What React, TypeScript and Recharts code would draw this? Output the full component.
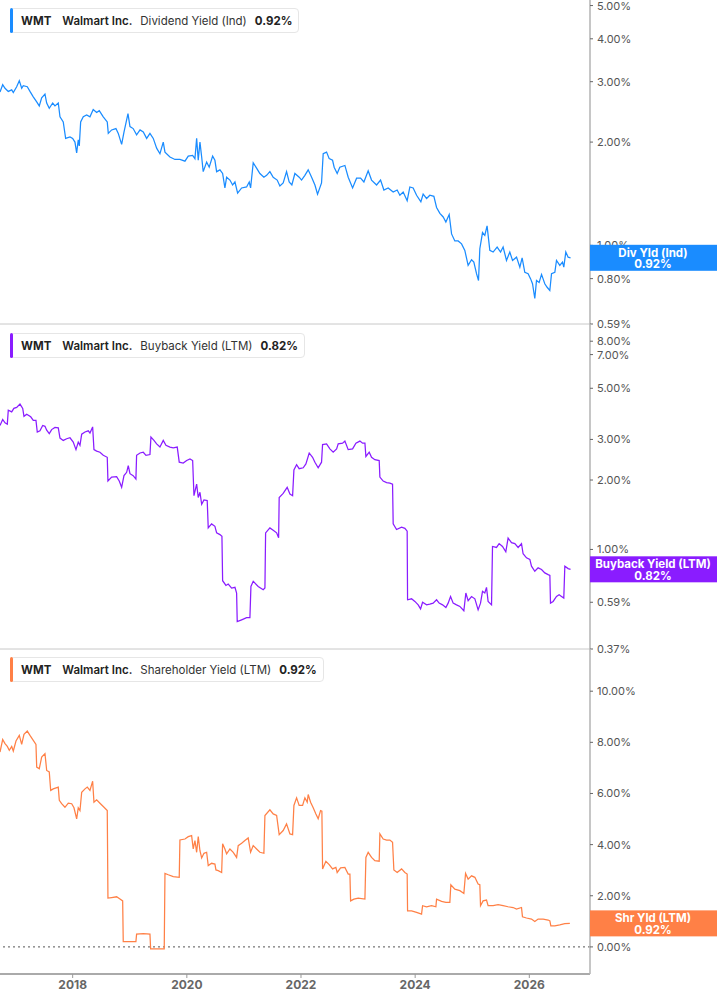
import React from "react";
import {
  LineChart,
  Line,
  XAxis,
  YAxis,
  ReferenceLine,
} from "recharts";

const FONT = "Inter, 'Noto Sans', sans-serif";

// [year, yield %]
const dividendYield: [number, number][] = [
  [2016.727, 2.8], [2016.774, 2.94], [2016.815, 2.87], [2016.872, 2.81], [2016.932, 2.84],
  [2016.96, 2.79], [2017.019, 2.9], [2017.065, 3.02], [2017.107, 2.87], [2017.135, 2.92],
  [2017.205, 2.9], [2017.252, 2.81], [2017.31, 2.71], [2017.37, 2.62], [2017.415, 2.55],
  [2017.457, 2.69], [2017.515, 2.76], [2017.545, 2.6], [2017.59, 2.51], [2017.65, 2.6],
  [2017.69, 2.55], [2017.748, 2.6], [2017.778, 2.37], [2017.835, 2.29], [2017.877, 2.05],
  [2017.953, 2.07], [2018.0, 2.05], [2018.04, 2.0], [2018.07, 1.86], [2018.098, 2.03],
  [2018.116, 1.95], [2018.14, 2.29], [2018.186, 2.37], [2018.245, 2.4], [2018.303, 2.37],
  [2018.36, 2.49], [2018.42, 2.44], [2018.466, 2.47], [2018.536, 2.37], [2018.606, 2.29],
  [2018.624, 2.12], [2018.683, 2.17], [2018.758, 2.19], [2018.799, 2.12], [2018.858, 1.97],
  [2018.899, 2.14], [2018.969, 2.42], [2019.004, 2.22], [2019.06, 2.19], [2019.12, 2.1],
  [2019.18, 2.17], [2019.237, 2.14], [2019.296, 2.05], [2019.354, 2.12], [2019.412, 2.05],
  [2019.471, 1.92], [2019.529, 1.85], [2019.587, 2.0], [2019.617, 1.87], [2019.704, 1.81],
  [2019.792, 1.78], [2019.879, 1.78], [2019.967, 1.76], [2020.025, 1.82], [2020.102, 1.83],
  [2020.142, 1.79], [2020.172, 2.05], [2020.2, 1.77], [2020.23, 2.0], [2020.26, 1.81],
  [2020.287, 1.64], [2020.347, 1.75], [2020.392, 1.69], [2020.452, 1.82], [2020.492, 1.77],
  [2020.522, 1.64], [2020.58, 1.66], [2020.627, 1.62], [2020.667, 1.47], [2020.697, 1.58],
  [2020.755, 1.55], [2020.802, 1.5], [2020.843, 1.53], [2020.89, 1.42], [2020.96, 1.47],
  [2021.047, 1.48], [2021.093, 1.53], [2021.117, 1.47], [2021.163, 1.74], [2021.222, 1.68],
  [2021.28, 1.62], [2021.35, 1.58], [2021.398, 1.6], [2021.455, 1.64], [2021.513, 1.58],
  [2021.583, 1.55], [2021.63, 1.49], [2021.688, 1.52], [2021.747, 1.64], [2021.793, 1.53],
  [2021.84, 1.5], [2021.893, 1.62], [2021.968, 1.58], [2022.01, 1.55], [2022.068, 1.6],
  [2022.126, 1.66], [2022.186, 1.58], [2022.244, 1.5], [2022.29, 1.41], [2022.36, 1.52],
  [2022.389, 1.85], [2022.448, 1.87], [2022.494, 1.79], [2022.553, 1.77], [2022.581, 1.69],
  [2022.634, 1.62], [2022.68, 1.69], [2022.769, 1.71], [2022.827, 1.58], [2022.904, 1.47],
  [2022.974, 1.57], [2023.044, 1.57], [2023.102, 1.53], [2023.177, 1.65], [2023.236, 1.55],
  [2023.324, 1.5], [2023.394, 1.55], [2023.452, 1.45], [2023.527, 1.47], [2023.615, 1.43],
  [2023.685, 1.45], [2023.732, 1.4], [2023.79, 1.43], [2023.86, 1.35], [2023.907, 1.48],
  [2023.965, 1.47], [2024.025, 1.4], [2024.1, 1.34], [2024.14, 1.41], [2024.2, 1.37],
  [2024.257, 1.4], [2024.328, 1.39], [2024.375, 1.29], [2024.433, 1.24], [2024.491, 1.21],
  [2024.538, 1.17], [2024.596, 1.23], [2024.638, 1.08], [2024.695, 1.03], [2024.753, 1.03],
  [2024.813, 1.01], [2024.87, 0.967], [2024.928, 0.874], [2024.988, 0.908], [2025.028, 0.894],
  [2025.075, 0.827], [2025.11, 0.79], [2025.133, 0.978], [2025.18, 1.09], [2025.22, 1.07],
  [2025.26, 1.14], [2025.308, 0.967], [2025.366, 0.956], [2025.436, 0.989], [2025.496, 0.956],
  [2025.541, 0.989], [2025.6, 0.904], [2025.658, 0.956], [2025.706, 0.904], [2025.776, 0.924],
  [2025.834, 0.864], [2025.874, 0.92], [2025.921, 0.835], [2025.979, 0.827], [2026.021, 0.8],
  [2026.056, 0.773], [2026.096, 0.7], [2026.126, 0.79], [2026.172, 0.78], [2026.214, 0.823],
  [2026.271, 0.773], [2026.312, 0.755], [2026.359, 0.739], [2026.389, 0.827], [2026.447, 0.835],
  [2026.476, 0.904], [2026.534, 0.874], [2026.581, 0.894], [2026.604, 0.864], [2026.639, 0.956],
  [2026.68, 0.924], [2026.722, 0.92],
];

const buybackYield: [number, number][] = [
  [2016.727, 3.45], [2016.774, 3.66], [2016.815, 3.54], [2016.855, 3.49], [2016.872, 4.02],
  [2016.932, 3.95], [2016.97, 4.09], [2017.019, 4.13], [2017.077, 4.27], [2017.125, 4.09],
  [2017.147, 3.78], [2017.195, 3.86], [2017.265, 3.76], [2017.31, 3.63], [2017.357, 3.63],
  [2017.38, 3.23], [2017.427, 3.27], [2017.475, 3.45], [2017.515, 3.42], [2017.545, 3.29],
  [2017.59, 3.18], [2017.632, 3.31], [2017.69, 3.38], [2017.748, 3.37], [2017.778, 3.04],
  [2017.835, 2.97], [2017.895, 3.02], [2017.953, 3.05], [2018.01, 2.92], [2018.058, 2.71],
  [2018.098, 2.92], [2018.128, 2.83], [2018.158, 3.16], [2018.216, 3.23], [2018.273, 3.27],
  [2018.303, 3.2], [2018.35, 3.4], [2018.373, 2.71], [2018.42, 2.67], [2018.478, 2.64],
  [2018.536, 2.56], [2018.606, 2.51], [2018.618, 1.98], [2018.683, 2.06], [2018.77, 2.07],
  [2018.816, 1.98], [2018.858, 1.86], [2018.899, 2.09], [2018.946, 2.16], [2018.974, 2.31],
  [2019.004, 2.13], [2019.06, 2.09], [2019.108, 2.02], [2019.12, 2.56], [2019.18, 2.62],
  [2019.237, 2.64], [2019.284, 2.56], [2019.354, 2.58], [2019.371, 3.07], [2019.424, 2.97],
  [2019.471, 2.87], [2019.529, 2.78], [2019.587, 2.97], [2019.634, 2.83], [2019.704, 2.78],
  [2019.762, 2.76], [2019.832, 2.78], [2019.867, 2.39], [2019.937, 2.37], [2019.997, 2.43],
  [2020.055, 2.47], [2020.102, 2.43], [2020.125, 1.71], [2020.172, 1.92], [2020.2, 1.68],
  [2020.23, 1.77], [2020.26, 1.57], [2020.3, 1.64], [2020.357, 1.63], [2020.375, 1.24],
  [2020.434, 1.29], [2020.492, 1.26], [2020.522, 1.18], [2020.58, 1.16], [2020.615, 1.14],
  [2020.627, 0.732], [2020.685, 0.698], [2020.725, 0.708], [2020.785, 0.68], [2020.843, 0.685],
  [2020.872, 0.647], [2020.883, 0.486], [2020.96, 0.495], [2021.047, 0.506], [2021.105, 0.506],
  [2021.123, 0.691], [2021.163, 0.727], [2021.25, 0.691], [2021.338, 0.669], [2021.368, 0.68],
  [2021.38, 1.18], [2021.455, 1.24], [2021.513, 1.21], [2021.573, 1.18], [2021.608, 1.125],
  [2021.618, 1.68], [2021.688, 1.75], [2021.758, 1.86], [2021.806, 1.74], [2021.853, 1.71],
  [2021.876, 2.21], [2021.923, 2.33], [2021.968, 2.24], [2022.039, 2.26], [2022.086, 2.35],
  [2022.144, 2.62], [2022.203, 2.51], [2022.244, 2.39], [2022.301, 2.26], [2022.36, 2.39],
  [2022.378, 2.85], [2022.448, 2.87], [2022.506, 2.73], [2022.564, 2.64], [2022.624, 2.73],
  [2022.652, 2.87], [2022.729, 2.89], [2022.769, 2.95], [2022.827, 2.71], [2022.904, 2.73],
  [2022.962, 2.89], [2023.032, 2.95], [2023.079, 2.89], [2023.12, 2.89], [2023.137, 2.53],
  [2023.195, 2.64], [2023.236, 2.51], [2023.294, 2.45], [2023.37, 2.43], [2023.382, 2.06],
  [2023.44, 1.98], [2023.5, 1.95], [2023.557, 1.94], [2023.604, 1.92], [2023.615, 1.29],
  [2023.674, 1.22], [2023.762, 1.25], [2023.82, 1.235], [2023.86, 1.2], [2023.867, 0.605],
  [2023.937, 0.611], [2023.995, 0.595], [2024.053, 0.575], [2024.095, 0.552], [2024.13, 0.59],
  [2024.2, 0.575], [2024.257, 0.579], [2024.315, 0.585], [2024.375, 0.605], [2024.42, 0.585],
  [2024.48, 0.575], [2024.538, 0.56], [2024.578, 0.585], [2024.62, 0.625], [2024.666, 0.585],
  [2024.725, 0.575], [2024.783, 0.566], [2024.853, 0.542], [2024.888, 0.647], [2024.928, 0.599],
  [2024.988, 0.625], [2025.046, 0.611], [2025.103, 0.547], [2025.145, 0.585], [2025.18, 0.658],
  [2025.22, 0.647], [2025.25, 0.685], [2025.278, 0.595], [2025.338, 0.575], [2025.355, 1.03],
  [2025.425, 1.02], [2025.471, 1.06], [2025.53, 1.03], [2025.588, 0.977], [2025.628, 1.12],
  [2025.688, 1.07], [2025.746, 1.06], [2025.804, 1.02], [2025.863, 1.06], [2025.891, 0.958],
  [2025.95, 0.92], [2026.009, 0.905], [2026.038, 0.846], [2026.096, 0.804], [2026.154, 0.832],
  [2026.214, 0.818], [2026.271, 0.791], [2026.33, 0.778], [2026.36, 0.772], [2026.371, 0.585],
  [2026.417, 0.595], [2026.476, 0.625], [2026.522, 0.636], [2026.564, 0.625], [2026.604, 0.615],
  [2026.622, 0.846], [2026.68, 0.826], [2026.722, 0.82],
];

const shareholderYield: [number, number][] = [
  [2016.727, 7.62], [2016.774, 8.11], [2016.815, 7.95], [2016.855, 7.84], [2016.89, 7.69],
  [2016.932, 7.84], [2016.96, 7.66], [2017.007, 8.05], [2017.065, 8.27], [2017.107, 7.92],
  [2017.147, 8.31], [2017.205, 8.44], [2017.252, 8.27], [2017.31, 8.08], [2017.357, 7.92],
  [2017.37, 7.03], [2017.415, 6.97], [2017.457, 7.42], [2017.515, 7.56], [2017.545, 6.9],
  [2017.59, 6.84], [2017.615, 6.12], [2017.66, 6.18], [2017.748, 6.25], [2017.766, 5.73],
  [2017.807, 5.6], [2017.865, 5.46], [2017.923, 5.62], [2017.983, 5.6], [2018.023, 5.44],
  [2018.07, 5.01], [2018.098, 5.44], [2018.128, 5.33], [2018.158, 6.05], [2018.216, 6.18],
  [2018.256, 6.25], [2018.303, 6.12], [2018.35, 6.48], [2018.373, 5.66], [2018.42, 5.75],
  [2018.478, 5.62], [2018.536, 5.49], [2018.606, 5.33], [2018.618, 1.91], [2018.683, 1.93],
  [2018.77, 1.96], [2018.829, 1.87], [2018.876, 1.8], [2018.886, 0.21], [2019.108, 0.21],
  [2019.12, 0.5], [2019.237, 0.52], [2019.354, 0.5], [2019.366, -0.08], [2019.604, -0.08],
  [2019.617, 2.87], [2019.675, 2.82], [2019.762, 2.75], [2019.867, 2.72], [2019.879, 4.18],
  [2019.967, 4.22], [2020.025, 4.31], [2020.084, 4.35], [2020.112, 3.83], [2020.142, 4.16],
  [2020.172, 3.7], [2020.2, 4.31], [2020.23, 3.76], [2020.26, 3.48], [2020.3, 3.66],
  [2020.347, 3.7], [2020.375, 3.18], [2020.434, 3.27], [2020.492, 3.24], [2020.51, 3.01],
  [2020.55, 2.98], [2020.61, 2.91], [2020.627, 4.03], [2020.667, 3.83], [2020.697, 3.64],
  [2020.755, 3.83], [2020.813, 3.7], [2020.872, 3.5], [2020.9, 3.96], [2020.96, 4.05],
  [2021.017, 4.16], [2021.075, 4.26], [2021.117, 3.7], [2021.163, 3.96], [2021.222, 3.83],
  [2021.28, 3.7], [2021.35, 3.66], [2021.368, 5.14], [2021.455, 5.36], [2021.513, 5.2],
  [2021.573, 5.14], [2021.618, 4.39], [2021.688, 4.55], [2021.747, 4.81], [2021.806, 4.42],
  [2021.853, 4.39], [2021.876, 5.53], [2021.923, 5.83], [2021.968, 5.53], [2022.028, 5.53],
  [2022.068, 5.83], [2022.109, 5.66], [2022.126, 5.96], [2022.168, 5.66], [2022.214, 5.44],
  [2022.261, 5.2], [2022.301, 5.01], [2022.343, 5.33], [2022.366, 5.31], [2022.378, 3.05],
  [2022.436, 3.35], [2022.494, 3.22], [2022.553, 3.05], [2022.611, 3.11], [2022.634, 2.91],
  [2022.694, 3.09], [2022.769, 3.11], [2022.827, 2.85], [2022.857, 2.85], [2022.869, 1.8],
  [2022.927, 1.87], [2023.002, 1.91], [2023.12, 1.87], [2023.137, 3.5], [2023.177, 3.7],
  [2023.236, 3.5], [2023.294, 3.37], [2023.37, 3.35], [2023.382, 4.42], [2023.44, 4.22],
  [2023.5, 4.18], [2023.557, 4.18], [2023.604, 4.09], [2023.627, 3.01], [2023.685, 2.91],
  [2023.762, 3.05], [2023.82, 2.91], [2023.86, 2.85], [2023.867, 1.41], [2023.937, 1.41],
  [2024.025, 1.35], [2024.112, 1.28], [2024.13, 1.61], [2024.2, 1.57], [2024.287, 1.61],
  [2024.363, 1.57], [2024.375, 1.87], [2024.463, 1.78], [2024.538, 1.74], [2024.608, 1.74],
  [2024.625, 2.43], [2024.695, 2.26], [2024.783, 2.2], [2024.853, 2.09], [2024.883, 2.87],
  [2024.928, 2.65], [2024.988, 2.78], [2025.046, 2.72], [2025.103, 2.46], [2025.133, 2.43],
  [2025.145, 1.61], [2025.19, 1.8], [2025.25, 1.83], [2025.278, 1.61], [2025.366, 1.61],
  [2025.453, 1.65], [2025.541, 1.61], [2025.628, 1.57], [2025.716, 1.54], [2025.776, 1.48],
  [2025.863, 1.54], [2025.88, 1.18], [2025.95, 1.13], [2026.038, 1.09], [2026.096, 0.99],
  [2026.154, 1.09], [2026.242, 1.09], [2026.33, 1.05], [2026.36, 1.02], [2026.377, 0.82],
  [2026.447, 0.82], [2026.534, 0.86], [2026.622, 0.91], [2026.71, 0.92],
];

const yearTicks = [2018, 2020, 2022, 2024, 2026];
const dividendTicks = [0.59, 0.8, 1, 2, 3, 4, 5];
const buybackTicks = [0.37, 0.59, 1, 2, 3, 5, 7, 8];
const shareholderTicks = [0, 2, 4, 6, 8, 10];

const X_DOMAIN = [2016.727, 2027.063];
const AXIS_W = 127;
const PAD = 10;

const toRows = (pts: [number, number][]) => pts.map(([t, v]) => ({ t, v }));
const pct = (v: number) => `${v.toFixed(2)}%`;

function Legend({ top, color, label, value }) {
  return (
    <div
      style={{
        position: "absolute",
        left: 10,
        top,
        height: 25,
        boxSizing: "border-box",
        border: "1px solid #e6e6e6",
        borderRadius: 4,
        display: "flex",
        alignItems: "center",
        paddingLeft: 10,
        paddingRight: 6,
        fontFamily: FONT,
        fontSize: 11.5,
        color: "#222",
        background: "#fff",
        whiteSpace: "nowrap",
      }}
    >
      <div
        style={{
          position: "absolute",
          left: -1,
          top: -1,
          bottom: -1,
          width: 3,
          borderRadius: 2,
          background: color,
        }}
      />
      <span style={{ fontWeight: 700, marginRight: 11 }}>WMT</span>
      <span style={{ fontWeight: 600, marginRight: 8 }}>Walmart Inc.</span>
      <span style={{ marginRight: 8, color: "#333" }}>{label}</span>
      <span style={{ fontWeight: 700 }}>{value}</span>
    </div>
  );
}

// right-axis tick; the last value's tick becomes the coloured tag
const makeTick = (last: number, color: string, name: string) => (props: any) => {
  const { x, y, payload } = props;
  if (payload.value === last) {
    const left = x - 7;
    return (
      <g>
        <rect x={left} y={y - 13} width={AXIS_W} height={26} fill={color} />
        <text
          x={left + 63}
          y={y - 1}
          textAnchor="middle"
          fill="#fff"
          fontWeight={700}
          fontSize={11.5}
          fontFamily={FONT}
        >
          {name}
        </text>
        <text
          x={left + 63}
          y={y + 10.5}
          textAnchor="middle"
          fill="#fff"
          fontWeight={700}
          fontSize={11.5}
          fontFamily={FONT}
        >
          {pct(payload.value)}
        </text>
      </g>
    );
  }
  return (
    <text
      x={x}
      y={y}
      dy={4}
      textAnchor="start"
      fill="#555"
      fontSize={11}
      fontFamily={FONT}
    >
      {pct(payload.value)}
    </text>
  );
};

function Panel({ top, height, bottomPad, data, color, log, domain, ticks, last, tagName, showX, zeroLine }) {
  return (
    <div style={{ position: "absolute", left: 0, top }}>
      <LineChart
        width={717}
        height={height}
        data={data}
        margin={{ top: PAD, right: 0, bottom: bottomPad, left: 0 }}
      >
        <XAxis
          dataKey="t"
          type="number"
          domain={X_DOMAIN}
          allowDataOverflow
          ticks={yearTicks}
          hide={!showX}
          height={31}
          tick={{ fill: "#666", fontSize: 12, fontWeight: 700, fontFamily: FONT }}
          tickLine={{ stroke: "#999" }}
          tickSize={4}
          axisLine={{ stroke: "#aaa", strokeWidth: 2 }}
        />
        <YAxis
          orientation="right"
          width={AXIS_W}
          scale={log ? "log" : "linear"}
          type="number"
          domain={domain}
          allowDataOverflow
          ticks={[...ticks, last]}
          interval={0}
          tick={makeTick(last, color, tagName)}
          tickLine={{ stroke: "#666" }}
          tickSize={3}
          tickMargin={4}
          axisLine={{ stroke: "#b3b3b3", strokeWidth: 1.5 }}
        />
        {!showX && <ReferenceLine y={domain[0]} stroke="#c8c8c8" strokeWidth={1} />}
        {zeroLine && (
          <ReferenceLine y={0} stroke="#555" strokeDasharray="2 3" strokeWidth={1} />
        )}
        <Line
          type="linear"
          dataKey="v"
          stroke={color}
          strokeWidth={1.25}
          dot={false}
          activeDot={false}
          isAnimationActive={false}
        />
      </LineChart>
    </div>
  );
}

export default function App() {
  const divLast = dividendYield[dividendYield.length - 1][1];
  const bbLast = buybackYield[buybackYield.length - 1][1];
  const shLast = shareholderYield[shareholderYield.length - 1][1];

  return (
    <div
      style={{
        position: "absolute",
        left: 0,
        top: 0,
        width: 717,
        height: 1005,
        background: "#fff",
        overflow: "hidden",
      }}
    >
      <Panel
        top={-PAD}
        height={324 + 2 * PAD}
        bottomPad={PAD}
        data={toRows(dividendYield)}
        color="#1a8cff"
        log
        domain={[0.59, 5.19]}
        ticks={dividendTicks}
        last={divLast}
        tagName="Div Yld (Ind)"
        showX={false}
        zeroLine={false}
      />
      <Panel
        top={324 - PAD}
        height={325 + 2 * PAD}
        bottomPad={PAD}
        data={toRows(buybackYield)}
        color="#8a1cff"
        log
        domain={[0.37, 9.5]}
        ticks={buybackTicks}
        last={bbLast}
        tagName="Buyback Yield (LTM)"
        showX={false}
        zeroLine={false}
      />
      <Panel
        top={649 - PAD}
        height={325 + 31 + PAD}
        bottomPad={0}
        data={toRows(shareholderYield)}
        color="#ff8046"
        log={false}
        domain={[-1.06, 11.65]}
        ticks={shareholderTicks}
        last={shLast}
        tagName="Shr Yld (LTM)"
        showX
        zeroLine
      />
      <Legend top={8} color="#1a8cff" label="Dividend Yield (Ind)" value={pct(divLast)} />
      <Legend top={333} color="#8a1cff" label="Buyback Yield (LTM)" value={pct(bbLast)} />
      <Legend top={657} color="#ff8046" label="Shareholder Yield (LTM)" value={pct(shLast)} />
    </div>
  );
}
